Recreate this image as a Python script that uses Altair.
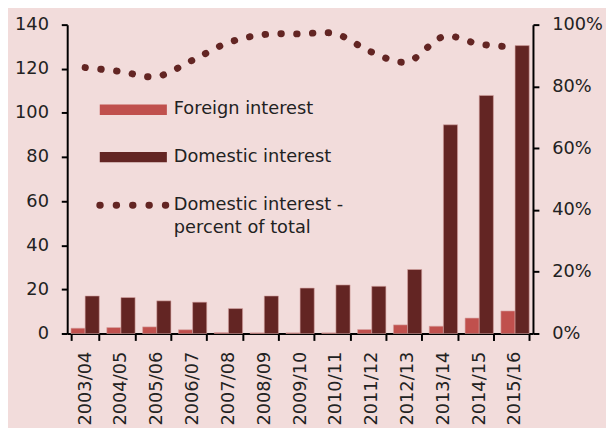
import altair as alt
import pandas as pd

years = ["2003/04", "2004/05", "2005/06", "2006/07", "2007/08", "2008/09", "2009/10",
         "2010/11", "2011/12", "2012/13", "2013/14", "2014/15", "2015/16"]
foreign = [2.4, 2.7, 3.0, 1.7, 0.4, 0.3, 0.3, 0.3, 1.8, 3.9, 3.3, 7.0, 10.2]
domestic = [17.0, 16.3, 14.8, 14.2, 11.3, 17.0, 20.6, 22.0, 21.4, 29.0, 94.6, 107.9, 130.5]
pct_domestic = [86.1, 84.8, 83.2, 88.5, 94.2, 96.8, 97.0, 97.0, 91.1, 88.0, 96.1, 93.7, 92.7]

series_names = ["Foreign interest", "Domestic interest"]
series_colors = ["#c0504d", "#632523"]
line_label = ["Domestic interest -", "percent of total"]
left_ticks = [0, 20, 40, 60, 80, 100, 120, 140]
right_ticks = [0, 0.2, 0.4, 0.6, 0.8, 1.0]

FONT = "DejaVu Sans"
TXT = "#222222"

bars_df = pd.DataFrame({
    "year": years * 2,
    "series": [series_names[0]] * len(years) + [series_names[1]] * len(years),
    "value": foreign + domestic,
})
line_df = pd.DataFrame({"year": years, "pct": [p / 100 for p in pct_domestic]})

x_enc = alt.X(
    "year:N", sort=years, title=None,
    scale=alt.Scale(paddingInner=0.21, paddingOuter=0.105),
    axis=alt.Axis(labelAngle=-90, labelAlign="right", labelBaseline="middle",
                  tickBand="extent", labelPadding=11, tickSize=7),
)

bars = alt.Chart(bars_df).mark_bar(stroke="#d7a3a1", strokeWidth=0.6).encode(
    x=x_enc,
    xOffset=alt.XOffset("series:N", sort=series_names, scale=alt.Scale(paddingInner=0, paddingOuter=0)),
    y=alt.Y("value:Q", title=None,
            scale=alt.Scale(domain=[0, 140], nice=False),
            axis=alt.Axis(values=left_ticks, labelPadding=13, orient="left")),
    color=alt.Color("series:N", sort=series_names,
                    scale=alt.Scale(domain=series_names, range=series_colors), legend=None),
)

line = alt.Chart(line_df).mark_line(
    interpolate="cardinal", strokeDash=[0.5, 15.5], strokeCap="round",
    strokeWidth=7, color="#632523",
).encode(
    x=alt.X("year:N", sort=years),
    y=alt.Y("pct:Q", title=None,
            scale=alt.Scale(domain=[0, 1], nice=False),
            axis=alt.Axis(values=right_ticks, format=".0%", orient="right", labelPadding=13)),
)

def legend_text(label, ypix):
    return alt.Chart(pd.DataFrame({"label": [label]})).mark_text(
        align="left", baseline="middle", fontSize=18, font=FONT, color=TXT
    ).encode(text="label:N", x=alt.value(108), y=alt.value(ypix))

def legend_rect(color, ytop):
    return alt.Chart(pd.DataFrame({"k": [0]})).mark_rect(color=color).encode(
        x=alt.value(33), x2=alt.value(101), y=alt.value(ytop), y2=alt.value(ytop + 10.5)
    )

leg_dots = alt.Chart(pd.DataFrame({"k": [0]})).mark_rule(
    strokeDash=[0.5, 16.1], strokeCap="round", strokeWidth=7, color="#632523"
).encode(x=alt.value(33), x2=alt.value(100), y=alt.value(183))

chart = alt.layer(
    bars, line,
    legend_rect(series_colors[0], 81), legend_text(series_names[0], 86),
    legend_rect(series_colors[1], 129), legend_text(series_names[1], 134),
    leg_dots, legend_text(line_label[0], 183), legend_text(line_label[1], 206),
).resolve_scale(y="independent").properties(
    width=472, height=313,
    background="#f2dcdb",
    padding={"left": 60, "top": 14, "right": 74, "bottom": 100},
    autosize=alt.AutoSizeParams(type="none"),
).configure_view(stroke=None).configure_axis(
    grid=False, domainColor="black", domainWidth=2, tickColor="black", tickWidth=2,
    tickSize=6, labelFont=FONT, labelFontSize=18, labelColor=TXT,
)

chart.save("out.html", embed_options={"renderer": "svg", "actions": False})
